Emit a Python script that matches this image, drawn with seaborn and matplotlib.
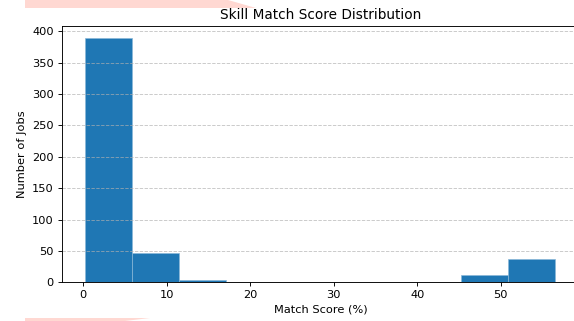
import numpy as np
import pandas as pd
import matplotlib
matplotlib.use("Agg")
import matplotlib.pyplot as plt
import seaborn as sns
from matplotlib.patches import Polygon

# ---- data ----
score_min = 0.24
score_max = 56.55
job_counts = [389, 47, 3, 0, 0, 0, 0, 0, 12, 37]
n_bins = len(job_counts)
title = "Skill Match Score Distribution"
x_label = "Match Score (%)"
y_label = "Number of Jobs"

edges = np.linspace(score_min, score_max, n_bins + 1)
centers = (edges[:-1] + edges[1:]) / 2
df = pd.DataFrame({"score": centers, "jobs": job_counts})

DPI = 82
fig = plt.figure(figsize=(574 / DPI, 321 / DPI), dpi=DPI)
ax = fig.add_axes([61.7 / 574, 1 - 282.3 / 321, (579 - 61.7) / 574, (282.3 - 26) / 321])

sns.histplot(data=df, x="score", weights="jobs", bins=n_bins,
             binrange=(score_min, score_max), color="#1f77b4", alpha=1,
             edgecolor="#8ab8d8", linewidth=0.6, ax=ax)

ax.set_title(title, fontsize=12)
ax.set_xlabel(x_label, fontsize=10)
ax.set_ylabel(y_label, fontsize=10)
ax.grid(axis="y", linestyle="--", alpha=0.7)
ax.set_xticks([0, 10, 20, 30, 40, 50])

# screenshot artifacts (pink bands)
fig.patches.append(Polygon([(25, 321), (228, 321), (256, 313), (25, 313)],
                           closed=True, transform=None, facecolor="#ffd8d2",
                           edgecolor="none", zorder=-1))
fig.patches.append(Polygon([(25, 0), (125, 0), (150, 3), (25, 3)],
                           closed=True, transform=None, facecolor="#ffd8d2",
                           edgecolor="none", zorder=-1))

fig.savefig("out.png", dpi=DPI)
